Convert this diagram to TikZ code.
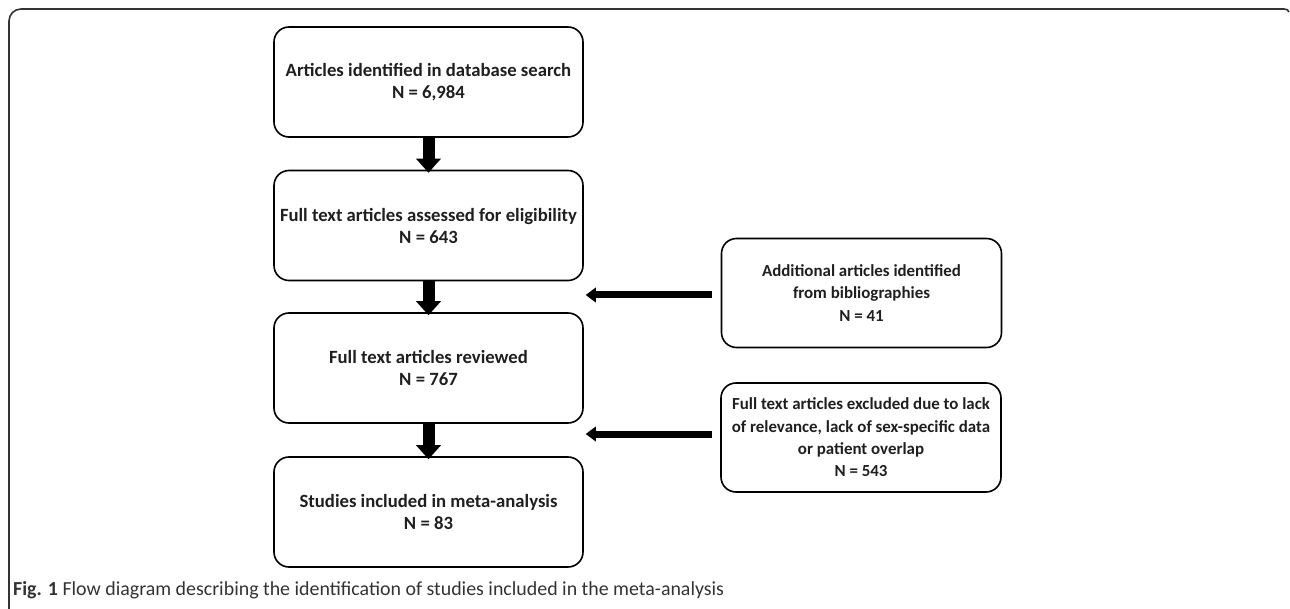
\documentclass[tikz,border=0pt]{standalone}
\usepackage{fontspec}
\setmainfont{Carlito}
\usetikzlibrary{arrows.meta,calc}
\begin{document}
\begin{tikzpicture}[x=1pt,y=-1pt,
  mainbox/.style={draw=black, line width=1.6pt, rounded corners=15pt,
    minimum width=309pt, minimum height=110pt, align=center,
    font=\fontsize{18.7}{22}\selectfont\bfseries, text=black!88, inner sep=0pt},
  sidebox/.style={mainbox, minimum width=280pt, minimum height=109pt,
    font=\fontsize{16.9}{22.3}\selectfont\bfseries},
  downarrow/.style={line width=12pt, -{Triangle[width=25pt,length=14pt,line width=0pt]}},
  sidearrow/.style={line width=7pt, -{Triangle[width=15pt,length=10pt,line width=0pt]}},
  frame/.style={draw=black!80, line width=1.6pt},
  caption/.style={anchor=west, inner sep=0pt, font=\fontsize{19.9}{22}\selectfont, text=black!80}
]
\useasboundingbox (0,0) rectangle (1290,609);
% outer frame
\draw[frame] (9,609) -- (9,21) arc[start angle=180, end angle=270, radius=12] -- (1284,9) .. controls (1287,9) and (1288,10) .. (1289,12);

\node[mainbox] (b1) at (428.5,82) {Articles identified in database search\\N = 6,984};
\node[mainbox] (b2) at (428.5,225.5) {Full text articles assessed for eligibility\\N = 643};
\node[mainbox] (b3) at (428.5,368) {Full text articles reviewed\\N = 767};
\node[mainbox] (b4) at (428.5,512) {Studies included in meta-analysis\\N = 83};

\node[sidebox] (r1) at (861.5,293) {Additional articles identified\\from bibliographies\\N = 41};
\node[sidebox] (r2) at (861,437.5) {Full text articles excluded due to lack\\of relevance, lack of sex-specific data\\or patient overlap\\N = 543};

\draw[downarrow] ([yshift=1pt]b1.south) -- ([yshift=-3pt]b2.north);
\draw[downarrow] ([yshift=1pt]b2.south) -- ([yshift=-3pt]b3.north);
\draw[downarrow] ([yshift=1pt]b3.south) -- ([yshift=-3pt]b4.north);

\coordinate (e1) at ($(b2.east |- r1.west)+(2,2)$);
\coordinate (e2) at ($(b3.east |- r2.west)+(2,-3.5)$);
\draw[sidearrow] ($(r1.west)+(-9,2)$) -- (e1);
\draw[sidearrow] ($(r2.west)+(-8,-3.5)$) -- (e2);

\node[caption] (cap) at (13,590) {\textbf{Fig. 1} Flow diagram describing the identification of studies included in the meta-analysis};
\end{tikzpicture}
\end{document}
